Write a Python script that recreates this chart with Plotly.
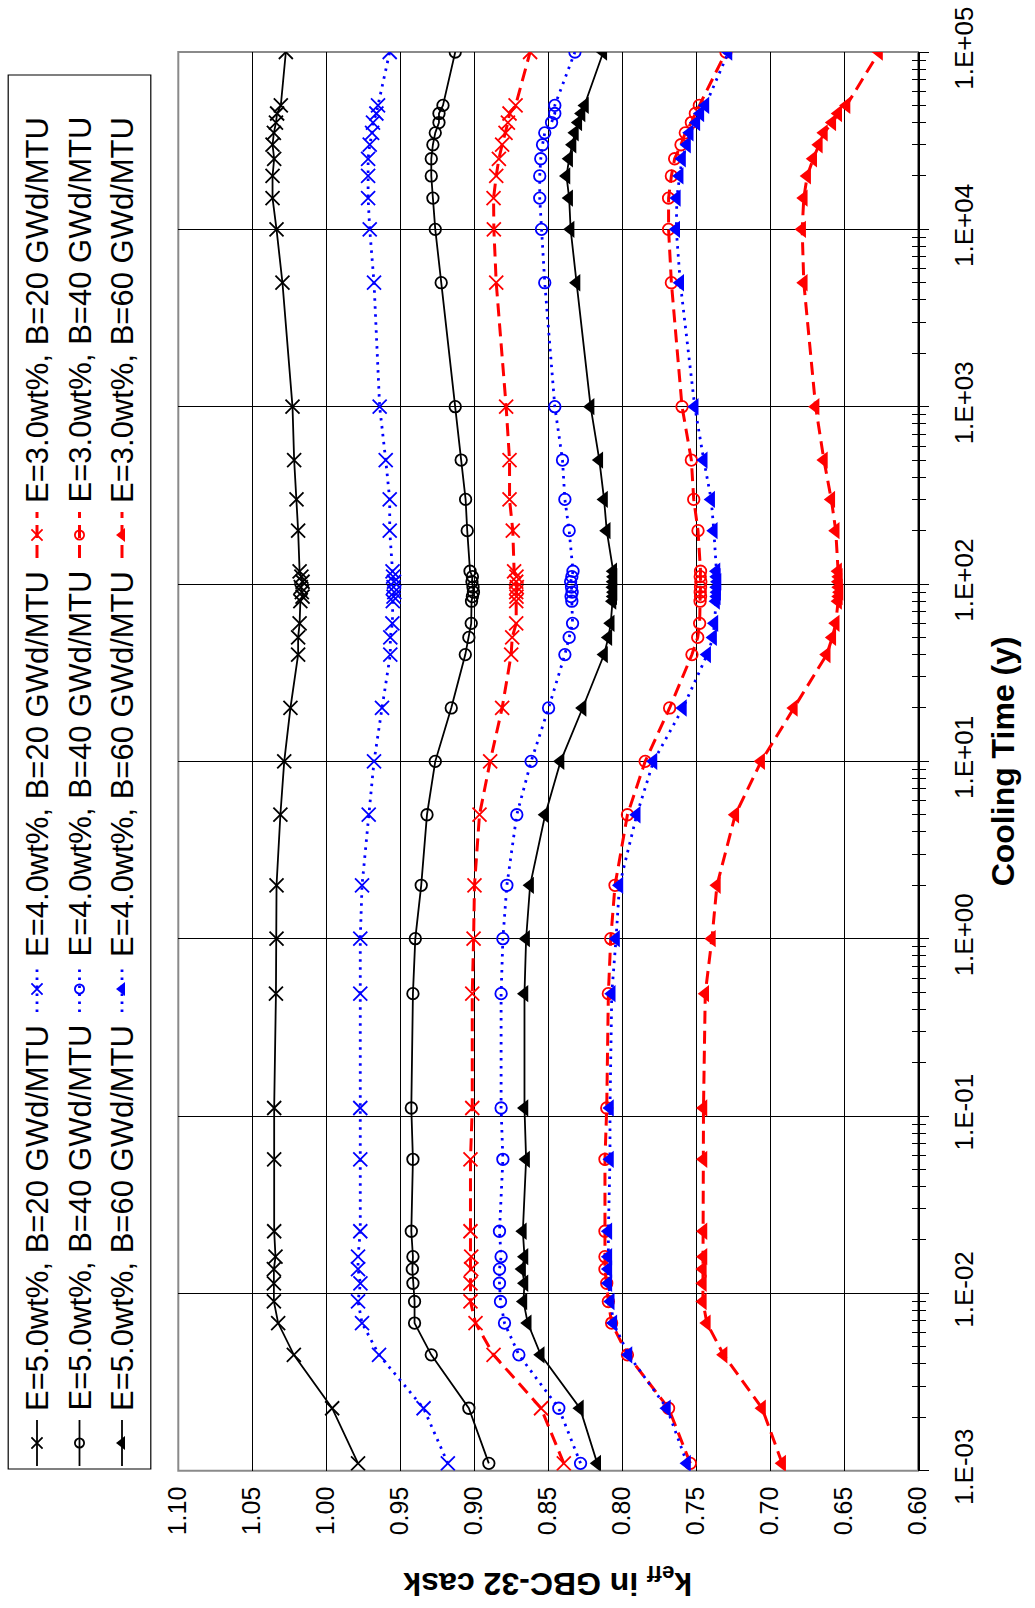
import plotly.graph_objects as go

# Cooling time (years) at which k_eff was evaluated
cooling_time = [0.0011, 0.00225, 0.0045, 0.0068, 0.009, 0.0114, 0.0137, 0.0161,
                0.0224, 0.057, 0.111, 0.49, 1, 2, 5, 10, 20, 40, 50, 60,
                80, 85, 90, 96, 103, 110, 118, 200, 300, 500, 1000, 5000,
                10000, 15000, 20000, 25000, 30000, 35000, 40000, 45000, 50000, 100000]

# k_eff in the GBC-32 cask, one list per enrichment / burnup case
keff_e5_b20 = [0.9785, 0.996, 1.0219, 1.0325, 1.0354, 1.0354, 1.0354, 1.0343, 1.0352, 1.0352,
               1.0352, 1.034, 1.0336, 1.0336, 1.031, 1.0284, 1.0242, 1.019, 1.019, 1.018,
               1.0175, 1.016, 1.0165, 1.0172, 1.016, 1.0168, 1.018, 1.019, 1.0201, 1.0217,
               1.0228, 1.0296, 1.0336, 1.0363, 1.0363, 1.0352, 1.0363, 1.0354, 1.034, 1.0332,
               1.0307, 1.0273]
keff_e4_b20 = [0.9178, 0.9342, 0.9643, 0.9758, 0.9785, 0.9769, 0.9785, 0.9785, 0.977, 0.977,
               0.977, 0.977, 0.977, 0.9758, 0.9713, 0.9677, 0.9623, 0.9567, 0.9567, 0.9553,
               0.955, 0.9545, 0.954, 0.9545, 0.9542, 0.9548, 0.9552, 0.9571, 0.9571, 0.9598,
               0.9639, 0.9677, 0.9706, 0.9717, 0.9717, 0.9717, 0.9706, 0.969, 0.9684, 0.9661,
               0.965, 0.9571]
keff_e3_b20 = [0.8394, 0.8548, 0.8869, 0.8991, 0.9025, 0.9025, 0.902, 0.902, 0.9025, 0.9025,
               0.9013, 0.9013, 0.9004, 0.8998, 0.8964, 0.8892, 0.8811, 0.875, 0.8743, 0.8716,
               0.8716, 0.8714, 0.8716, 0.8712, 0.8716, 0.8714, 0.873, 0.8739, 0.8761, 0.8761,
               0.8784, 0.8851, 0.8867, 0.8869, 0.8851, 0.8833, 0.8811, 0.8788, 0.8772, 0.8761,
               0.872, 0.8622]
keff_e5_b40 = [0.8901, 0.9036, 0.929, 0.9403, 0.9403, 0.9414, 0.9418, 0.9414, 0.9425, 0.9414,
               0.9425, 0.9414, 0.9398, 0.9358, 0.9319, 0.9263, 0.9155, 0.906, 0.9036, 0.902,
               0.9018, 0.9012, 0.9005, 0.9008, 0.9015, 0.9012, 0.9028, 0.9047, 0.9058, 0.9088,
               0.9128, 0.9223, 0.9263, 0.9279, 0.929, 0.929, 0.9279, 0.9263, 0.9238, 0.9238,
               0.9211, 0.9128]
keff_e4_b40 = [0.8281, 0.8428, 0.8698, 0.8795, 0.8822, 0.8829, 0.8829, 0.8818, 0.8829, 0.8806,
               0.8818, 0.8818, 0.8806, 0.8779, 0.8712, 0.8615, 0.8497, 0.8387, 0.8358, 0.8335,
               0.834, 0.8345, 0.8338, 0.8342, 0.8348, 0.834, 0.8332, 0.8358, 0.8387, 0.8403,
               0.8455, 0.8523, 0.8545, 0.8557, 0.8557, 0.855, 0.8538, 0.8523, 0.8477, 0.8455,
               0.8455, 0.8319]
keff_e3_b40 = [0.7539, 0.7686, 0.7964, 0.8071, 0.8093, 0.8104, 0.8116, 0.8116, 0.8116, 0.8116,
               0.8104, 0.8093, 0.8077, 0.8048, 0.7964, 0.7844, 0.7679, 0.7528, 0.7489, 0.7476,
               0.7473, 0.747, 0.7472, 0.747, 0.7468, 0.7472, 0.747, 0.7487, 0.7516, 0.7532,
               0.7595, 0.7667, 0.7686, 0.7686, 0.7667, 0.7645, 0.7602, 0.7573, 0.7532, 0.7505,
               0.7478, 0.7298]
keff_e5_b60 = [0.8168, 0.8285, 0.855, 0.8638, 0.8667, 0.866, 0.8676, 0.866, 0.8671, 0.8649,
               0.866, 0.866, 0.8649, 0.8622, 0.852, 0.8416, 0.8267, 0.8122, 0.8093, 0.8077,
               0.8065, 0.806, 0.8058, 0.8062, 0.806, 0.8058, 0.806, 0.8104, 0.8122, 0.8154,
               0.8213, 0.8308, 0.8348, 0.8358, 0.8376, 0.8358, 0.8335, 0.8319, 0.8296, 0.8274,
               0.8251, 0.8127]
keff_e4_b60 = [0.7561, 0.7697, 0.7957, 0.8059, 0.8077, 0.8093, 0.8093, 0.8093, 0.8093, 0.8082,
               0.8082, 0.807, 0.8041, 0.8018, 0.7901, 0.7788, 0.7589, 0.7425, 0.7385, 0.7376,
               0.7365, 0.736, 0.7358, 0.736, 0.7355, 0.736, 0.7362, 0.738, 0.7398, 0.7448,
               0.7509, 0.7607, 0.7634, 0.763, 0.7611, 0.7595, 0.7561, 0.7543, 0.7498, 0.7471,
               0.7437, 0.7281]
keff_e3_b60 = [0.6918, 0.7054, 0.7314, 0.7427, 0.7454, 0.7454, 0.7454, 0.745, 0.745, 0.745,
               0.745, 0.7438, 0.7393, 0.7359, 0.7235, 0.706, 0.6839, 0.6617, 0.6579, 0.6556,
               0.654, 0.6535, 0.653, 0.6535, 0.6538, 0.6535, 0.654, 0.6556, 0.6586, 0.6636,
               0.6692, 0.6772, 0.6783, 0.6772, 0.6749, 0.6708, 0.667, 0.6636, 0.6579, 0.6539,
               0.6483, 0.6263]

keff_ticks = [0.60, 0.65, 0.70, 0.75, 0.80, 0.85, 0.90, 0.95, 1.00, 1.05, 1.10]
time_ticks = [1e-3, 1e-2, 1e-1, 1e0, 1e1, 1e2, 1e3, 1e4, 1e5]
time_tick_labels = ["1.E-03", "1.E-02", "1.E-01", "1.E+00", "1.E+01",
                    "1.E+02", "1.E+03", "1.E+04", "1.E+05"]

FONT = "Liberation Sans, Arial, Helvetica, sans-serif"
W, H = 1035, 1608
PX0, PX1 = 178.3, 918.0        # plot area, left/right (px)
PY0, PY1 = 52.0, 1470.7        # plot area, top/bottom (px)

# line / marker styles per enrichment, marker per burnup
ENRICH_STYLE = {
    "5.0": dict(color="#000000", dash="solid", width=1.8),
    "4.0": dict(color="#0000FF", dash="2.5px,5.5px", width=2.8),
    "3.0": dict(color="#FF0000", dash="13px,7px", width=3.0),
}
BURNUP_MARKER = {"20": "x-thin", "40": "circle-open", "60": "triangle-left"}

cases = [
    ("5.0", "20", keff_e5_b20), ("4.0", "20", keff_e4_b20), ("3.0", "20", keff_e3_b20),
    ("5.0", "40", keff_e5_b40), ("4.0", "40", keff_e4_b40), ("3.0", "40", keff_e3_b40),
    ("5.0", "60", keff_e5_b60), ("4.0", "60", keff_e4_b60), ("3.0", "60", keff_e3_b60),
]


def marker_for(sym, color, scale=1.0):
    if sym == "x-thin":
        return dict(symbol=sym, size=14 * scale, color=color,
                    line=dict(color=color, width=1.8))
    if sym == "circle-open":
        return dict(symbol=sym, size=11.5 * scale, color=color,
                    line=dict(color=color, width=1.8))
    return dict(symbol=sym, size=15 * scale, color=color, line=dict(width=0))


fig = go.Figure()

for enr, bu, vals in cases:
    st = ENRICH_STYLE[enr]
    fig.add_trace(go.Scatter(
        x=vals, y=cooling_time, mode="lines+markers",
        name=f"E={enr}wt%, B={bu} GWd/MTU",
        line=dict(color=st["color"], dash=st["dash"], width=st["width"]),
        marker=marker_for(BURNUP_MARKER[bu], st["color"]),
        xaxis="x", yaxis="y", showlegend=False,
    ))

# invisible trace on the overlaid time axis (inner tick marks)
fig.add_trace(go.Scatter(x=[None], y=[None], xaxis="x", yaxis="y3",
                         mode="markers", showlegend=False, hoverinfo="skip"))

# ---- hand-built rotated legend (pixel coordinates on x2/y2) ----
legend_cols_x = {"20": 37.0, "40": 79.5, "60": 122.0}
legend_entry_bottom = {"5.0": 1466.0, "4.0": 1012.0, "3.0": 558.0}
SEG = 46.0
annotations = []
for enr, bu, _ in cases:
    st = ENRICH_STYLE[enr]
    cx = legend_cols_x[bu]
    yb = legend_entry_bottom[enr]
    fig.add_trace(go.Scatter(
        x=[cx, cx], y=[yb, yb - SEG], mode="lines",
        line=dict(color=st["color"], dash=st["dash"], width=st["width"]),
        xaxis="x2", yaxis="y2", showlegend=False, hoverinfo="skip"))
    fig.add_trace(go.Scatter(
        x=[cx], y=[yb - SEG / 2], mode="markers",
        marker=marker_for(BURNUP_MARKER[bu], st["color"], 0.8),
        xaxis="x2", yaxis="y2", showlegend=False, hoverinfo="skip"))
    annotations.append(dict(
        text=f"E={enr}wt%, B={bu} GWd/MTU", xref="x2", yref="y2",
        x=cx, y=yb - SEG - 7, xanchor="center", yanchor="bottom",
        textangle=-90, showarrow=False, font=dict(family=FONT, size=31, color="black")))

# axis titles (rotated with the chart)
annotations.append(dict(
    text="<b>Cooling Time (y)</b>", xref="paper", yref="paper",
    x=1003 / W, y=1 - (PY0 + PY1) / 2 / H, textangle=-90, showarrow=False,
    xanchor="center", yanchor="middle", font=dict(family=FONT, size=32, color="black")))
annotations.append(dict(
    text="<b>k<sub>eff</sub> in GBC-32 cask</b>", xref="paper", yref="paper",
    x=(PX0 + PX1) / 2 / W, y=1 - 1582 / H, textangle=180, showarrow=False,
    xanchor="center", yanchor="middle", font=dict(family=FONT, size=32, color="black")))

shapes = [
    # legend frame
    dict(type="rect", xref="x2", yref="y2", x0=8.2, x1=150.8, y0=75, y1=1469,
         line=dict(color="#000000", width=1.2), fillcolor="rgba(0,0,0,0)"),
    # plot area frame
    dict(type="rect", xref="x domain", yref="y domain", x0=0, x1=1, y0=0, y1=1,
         line=dict(color="#8a8a8a", width=2), layer="below"),
]

fig.update_layout(
    width=W, height=H, margin=dict(l=0, r=0, t=0, b=0),
    paper_bgcolor="white", plot_bgcolor="white", showlegend=False,
    font=dict(family=FONT, color="black"),
    annotations=annotations, shapes=shapes,
    xaxis=dict(
        domain=[PX0 / W, PX1 / W], range=[1.10, 0.60], anchor="y",
        tickmode="array", tickvals=keff_ticks, ticktext=[f"{v:.2f}" for v in keff_ticks],
        tickangle=-90, ticks="", showgrid=True, gridcolor="#000000", gridwidth=1,
        zeroline=False, showline=False, automargin=False,
        tickfont=dict(family=FONT, size=25, color="black"), ticklabelstandoff=10,
    ),
    yaxis=dict(
        domain=[(H - PY1) / H, (H - PY0) / H], type="log", range=[-3, 5], anchor="x",
        side="right", tickmode="array", tickvals=time_ticks, ticktext=time_tick_labels,
        tickangle=-90, ticks="outside", ticklen=9, tickwidth=1.2, tickcolor="black",
        showgrid=True, gridcolor="#000000", gridwidth=1, zeroline=False,
        showline=True, linecolor="black", linewidth=2, automargin=False,
        minor=dict(ticks="outside", ticklen=6, tickwidth=1, tickcolor="black",
                   dtick="D1", showgrid=False),
        tickfont=dict(family=FONT, size=26, color="black"), ticklabelstandoff=13,
    ),
    yaxis3=dict(
        overlaying="y", anchor="x", side="right", type="log", range=[-3, 5],
        tickmode="array", tickvals=time_ticks, ticks="inside", ticklen=9, tickwidth=1.2,
        tickcolor="black", showticklabels=False, showgrid=False, zeroline=False,
        showline=False,
        minor=dict(ticks="inside", ticklen=6, tickwidth=1, tickcolor="black",
                   dtick="D1", showgrid=False),
    ),
    xaxis2=dict(domain=[0, 0.16], range=[0, 0.16 * W], visible=False, anchor="y2"),
    yaxis2=dict(domain=[0, 1], range=[H, 0], visible=False, anchor="x2"),
)

fig.write_html("out.html")
